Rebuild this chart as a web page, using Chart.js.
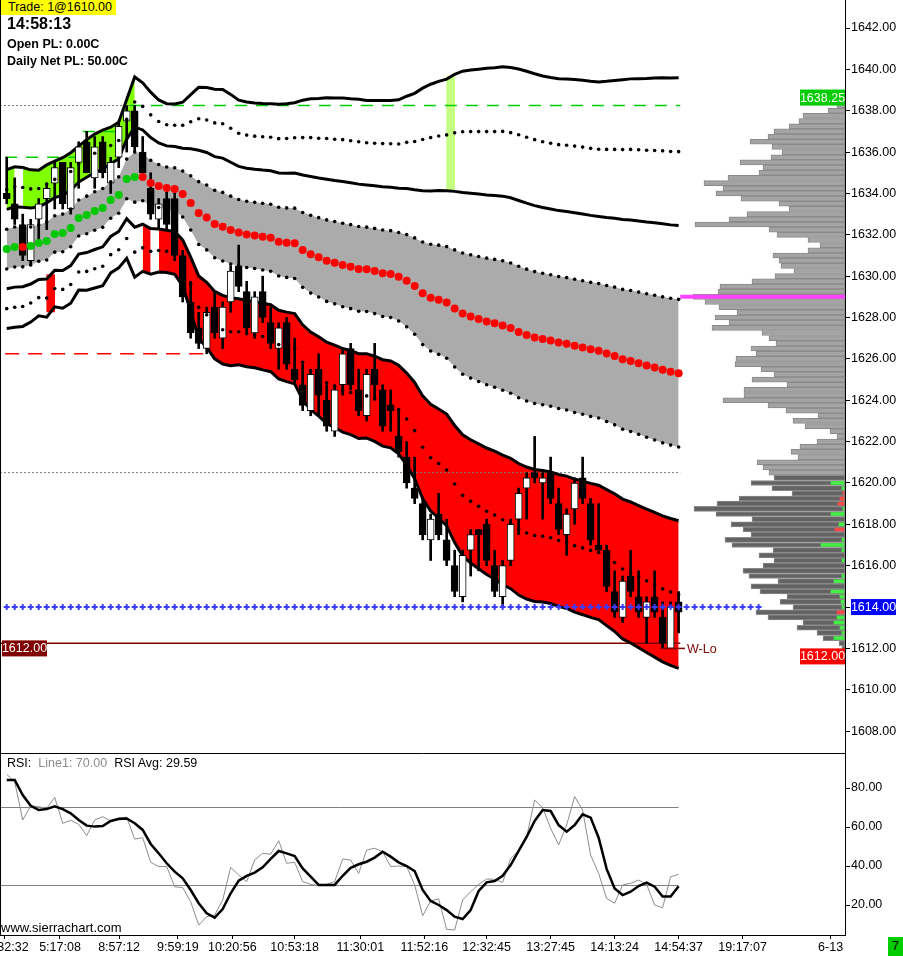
<!DOCTYPE html>
<html>
<head>
<meta charset="utf-8">
<title>ES intraday</title>
<script src="https://cdn.jsdelivr.net/npm/chart.js@4.4.1/dist/chart.umd.min.js"></script>
<style>
  html, body { margin: 0; padding: 0; background: #fff; }
  #wrap { position: relative; width: 903px; height: 956px; overflow: hidden; font-family: "Liberation Sans", Arial, sans-serif; color: #000; }
  #wrap canvas { position: absolute; left: 0; }
  #profile, #main { top: 0; }
  #rsi { top: 754px; }
  .lbl { position: absolute; white-space: nowrap; font-size: 12.5px; line-height: 15px; }
  .b { font-weight: bold; }
</style>
</head>
<body>
<div id="wrap">
  <canvas id="profile" width="903" height="754"></canvas>
  <canvas id="main" width="903" height="754"></canvas>
  <canvas id="rsi" width="903" height="202"></canvas>

  <div class="lbl" style="left:1px;top:0;width:115px;height:15px;background:#ffff00;padding-left:7px;box-sizing:border-box">Trade: 1@1610.00</div>
  <div class="lbl b" style="left:7px;top:15px;font-size:16px;line-height:18px">14:58:13</div>
  <div class="lbl b" style="left:7px;top:37px">Open PL: 0.00C</div>
  <div class="lbl b" style="left:7px;top:54px">Daily Net PL: 50.00C</div>
  <div class="lbl" style="left:7px;top:756px">RSI:<span style="color:#8c8c8c;margin-left:7px">Line1: 70.00</span><span style="margin-left:7px">RSI Avg: 29.59</span></div>
  <div class="lbl" style="left:1px;top:920px;font-size:13px">www.sierrachart.com</div>
  <div class="lbl" style="left:888px;top:937px;width:15px;height:19px;line-height:19px;text-align:center;background:#00cc00">7</div>
</div>

<script>
// candles, one per bar
const open = [1634.00,1633.50,1632.50,1630.75,1632.75,1633.75,1634.50,1635.50,1633.25,1635.50,
  1636.50,1634.75,1636.50,1634.50,1635.75,1637.50,1638.00,1636.00,1634.25,1632.75,
  1633.75,1633.75,1631.00,1628.75,1627.50,1626.50,1628.50,1627.00,1628.75,1630.50,
  1629.25,1627.25,1629.25,1627.75,1626.50,1627.75,1625.50,1624.75,1623.50,1625.50,
  1624.00,1622.50,1624.75,1626.50,1624.50,1623.25,1625.50,1624.50,1623.75,1622.25,
  1621.25,1619.75,1619.00,1617.25,1618.50,1617.25,1616.00,1614.50,1616.75,1617.75,
  1618.00,1616.00,1614.50,1616.25,1618.25,1619.75,1620.50,1620.00,1620.50,1619.00,
  1617.50,1618.75,1620.25,1619.00,1617.00,1616.75,1614.75,1613.50,1615.50,1614.50,
  1613.50,1614.50,1613.50,1612.00,1614.25];
const high = [1635.75,1634.75,1633.00,1632.75,1633.75,1634.50,1635.50,1635.50,1635.50,1636.50,
  1637.00,1636.75,1636.75,1635.75,1637.50,1638.25,1638.25,1636.75,1635.00,1633.75,
  1634.25,1634.25,1631.25,1629.75,1628.25,1628.50,1629.25,1628.75,1630.50,1631.50,
  1629.75,1629.25,1630.00,1628.50,1627.75,1628.00,1627.00,1625.75,1625.50,1626.25,
  1624.75,1624.75,1626.50,1626.75,1625.50,1625.50,1626.75,1624.75,1624.50,1623.50,
  1622.00,1621.25,1619.25,1618.50,1619.50,1618.25,1616.75,1616.75,1617.75,1617.75,
  1618.25,1616.75,1616.25,1618.25,1619.75,1620.50,1622.25,1620.50,1621.25,1619.75,
  1618.75,1620.25,1621.25,1619.25,1619.00,1617.00,1615.75,1615.50,1616.75,1615.75,
  1614.50,1615.75,1614.25,1614.25,1614.75];
const low = [1633.50,1632.50,1630.75,1630.50,1631.75,1632.25,1633.25,1633.25,1633.00,1634.25,
  1635.00,1634.25,1634.75,1634.00,1635.25,1636.00,1636.00,1634.75,1632.75,1632.25,
  1632.25,1630.75,1628.75,1627.00,1626.50,1626.25,1627.00,1626.50,1628.25,1629.25,
  1627.25,1627.00,1627.75,1626.50,1625.50,1625.50,1624.75,1623.50,1623.25,1623.25,
  1622.50,1622.25,1624.25,1624.50,1623.25,1623.00,1624.00,1622.50,1622.50,1621.25,
  1619.75,1619.00,1617.25,1616.25,1617.25,1616.00,1614.50,1614.25,1615.50,1615.75,
  1616.00,1614.50,1614.00,1616.00,1617.50,1618.25,1620.00,1618.25,1619.00,1617.50,
  1616.50,1618.00,1619.00,1617.00,1616.75,1614.75,1613.50,1613.25,1614.50,1613.50,
  1612.25,1613.50,1612.00,1612.00,1612.75];
const close = [1633.75,1632.75,1631.00,1632.50,1633.50,1634.25,1635.25,1633.50,1635.25,1636.25,
  1635.00,1636.25,1635.00,1635.50,1637.25,1638.00,1636.25,1635.00,1633.00,1633.50,
  1632.50,1631.00,1629.00,1627.25,1626.75,1628.25,1627.25,1628.50,1630.25,1629.50,
  1627.50,1629.00,1628.00,1626.75,1627.50,1625.75,1625.00,1623.75,1625.25,1624.25,
  1622.75,1624.50,1626.25,1624.75,1623.50,1625.25,1624.75,1622.75,1623.50,1621.50,
  1620.00,1619.25,1617.50,1618.25,1617.50,1616.25,1614.75,1616.50,1617.50,1617.50,
  1616.25,1614.75,1616.00,1618.00,1619.50,1620.25,1620.25,1620.25,1619.25,1617.75,
  1618.50,1620.00,1619.25,1617.25,1616.75,1615.00,1613.75,1615.25,1614.75,1613.75,
  1614.25,1613.75,1612.25,1614.00,1613.75];

// band centre line and band step (bands at centre +/- 1..4 steps)
const bandMid = [1631.31,1631.41,1631.41,1631.46,1631.60,1631.70,1632.04,1632.09,1632.33,1632.81,
  1632.96,1633.15,1633.30,1633.68,1633.92,1634.70,1634.79,1634.79,1634.50,1634.36,
  1634.26,1634.21,1633.97,1633.54,1633.05,1632.84,1632.52,1632.39,1632.23,1632.11,
  1632.02,1631.97,1631.91,1631.86,1631.67,1631.62,1631.59,1631.27,1631.06,1630.91,
  1630.75,1630.65,1630.54,1630.46,1630.35,1630.33,1630.25,1630.14,1630.10,1629.97,
  1629.78,1629.52,1629.17,1628.96,1628.86,1628.73,1628.44,1628.19,1628.05,1627.93,
  1627.81,1627.72,1627.61,1627.49,1627.30,1627.15,1627.03,1626.96,1626.89,1626.79,
  1626.73,1626.63,1626.55,1626.46,1626.39,1626.26,1626.14,1625.98,1625.90,1625.79,
  1625.68,1625.58,1625.47,1625.38,1625.31];
const bandStep = [0.96,0.97,0.96,0.92,0.88,0.92,0.88,0.91,0.91,0.87,
  0.91,0.93,0.94,0.88,0.88,0.96,1.21,1.14,1.10,1.04,
  1.02,1.03,1.11,1.31,1.52,1.57,1.63,1.66,1.64,1.60,
  1.60,1.60,1.61,1.62,1.66,1.68,1.70,1.81,1.88,1.92,
  1.97,1.99,2.02,2.03,2.05,2.04,2.06,2.09,2.10,2.14,
  2.23,2.33,2.48,2.58,2.64,2.70,2.83,2.93,2.98,3.02,
  3.06,3.09,3.13,3.15,3.18,3.19,3.19,3.18,3.18,3.19,
  3.20,3.22,3.23,3.24,3.25,3.29,3.33,3.38,3.41,3.44,
  3.47,3.50,3.53,3.55,3.57];
// 1 = centre dot green, 0 = red
const midUp = [1,1,0,1,1,1,1,1,1,1,1,1,1,1,1,1,1,0,0,0,
  0,0,0,0,0,0,0,0,0,0,0,0,0,0,0,0,0,0,0,0,
  0,0,0,0,0,0,0,0,0,0,0,0,0,0,0,0,0,0,0,0,
  0,0,0,0,0,0,0,0,0,0,0,0,0,0,0,0,0,0,0,0,
  0,0,0,0,0];
const greenZoneEnd = 17;   // upper zone filled green before this bar
// single bar highlights: position (bar), side (+1 upper zone, -1 lower zone)
const stripAt = [1.5, 5.5, 18.5, 55.5];
const stripSide = [1, -1, -1, 1];

// RSI panel
const rsiLine = [87.0,83.2,63.6,70.8,70.4,69.6,75.2,61.9,63.4,61.4,
  55.6,63.6,65.3,63.1,64.8,65.0,53.8,54.5,41.9,39.7,
  39.7,29.4,28.9,21.7,9.7,14.0,14.9,22.6,39.3,35.4,
  32.0,43.1,46.5,46.0,53.0,41.4,41.9,32.0,30.6,29.9,
  30.6,32.0,43.6,43.1,36.2,48.2,49.1,47.3,39.7,40.0,
  39.7,30.3,14.5,22.1,23.1,7.5,7.2,22.6,26.8,30.6,
  33.3,33.2,31.6,43.9,47.7,55.0,73.8,69.9,59.3,50.8,
  61.0,75.6,68.7,45.6,36.2,23.4,20.9,30.3,31.1,32.8,
  30.6,20.0,18.6,34.5,35.7];
const rsiAvg = [84.1,84.1,76.4,70.9,68.7,69.2,70.6,69.2,67.0,63.6,
  60.7,60.2,60.5,63.1,64.1,64.4,61.9,58.5,51.3,46.5,
  41.4,37.1,33.7,27.7,20.9,15.7,13.5,17.9,26.0,32.5,
  34.9,36.6,39.3,43.6,47.7,46.5,45.1,38.8,34.5,30.3,
  30.3,30.3,35.0,39.1,40.9,42.2,44.3,47.3,44.8,41.9,
  40.0,37.4,27.7,22.1,20.0,17.4,14.0,12.8,17.4,27.2,
  31.6,32.3,35.0,40.5,47.7,54.9,63.1,68.7,68.2,61.0,
  57.6,61.0,66.5,64.8,54.5,38.5,28.5,25.1,26.8,29.7,
  31.5,29.4,24.3,24.3,29.6];
const rsiLevels = [70, 30];
const rsiTicks = [20, 40, 60, 80];

// axes
const priceTicks = [1608,1610,1612,1614,1616,1618,1620,1622,1624,1626,1628,1630,1632,1634,1636,1638,1640,1642];
const timeTickAt = [-0.3, 6.66, 14.04, 21.4, 28.2, 36, 44.2, 52.2, 60, 68, 76, 84, 92, 103];
const timeLabels = ['22:32:32','5:17:08','8:57:12','9:59:19','10:20:56','10:53:18','11:30:01',
  '11:52:16','12:32:45','13:27:45','14:13:24','14:54:37','19:17:07','6-13'];

// price levels
const dayHigh = 1638.25, priorHighA = 1635.75, priorHighB = 1637.00;
const midLevel = 1620.50, openLevel = 1626.25, pivot = 1614.00;
const prevLow = 1612.25, weekLow = 1612.00, poc = 1629.00;

// volume profile
const profilePrice = [1638.25,1638,1637.75,1637.5,1637.25,1637,1636.75,1636.5,1636.25,1636,
  1635.75,1635.5,1635.25,1635,1634.75,1634.5,1634.25,1634,1633.75,1633.5,
  1633.25,1633,1632.75,1632.5,1632.25,1632,1631.75,1631.5,1631.25,1631,
  1630.75,1630.5,1630.25,1630,1629.75,1629.5,1629.25,1629,1628.75,1628.5,
  1628.25,1628,1627.75,1627.5,1627.25,1627,1626.75,1626.5,1626.25,1626,
  1625.75,1625.5,1625.25,1625,1624.75,1624.5,1624.25,1624,1623.75,1623.5,
  1623.25,1623,1622.75,1622.5,1622.25,1622,1621.75,1621.5,1621.25,1621,
  1620.75,1620.5,1620.25,1620,1619.75,1619.5,1619.25,1619,1618.75,1618.5,
  1618.25,1618,1617.75,1617.5,1617.25,1617,1616.75,1616.5,1616.25,1616,
  1615.75,1615.5,1615.25,1615,1614.75,1614.5,1614.25,1614,1613.75,1613.5,
  1613.25,1613,1612.75,1612.5,1612.25,1612];
const profileVolume = [8,17,42,46,56,71,77,95,73,63,
  74,105,82,86,117,141,122,129,104,66,
  56,98,116,150,76,68,37,25,37,72,
  66,64,51,70,93,125,127,152,140,126,
  108,130,116,133,83,76,69,94,89,109,
  110,84,71,93,58,101,101,122,77,59,
  27,52,40,15,8,28,45,54,47,88,
  82,76,71,94,73,53,106,128,151,129,
  93,114,102,94,120,113,72,86,71,82,
  102,96,67,94,85,58,65,52,89,77,
  42,48,28,22,6,3];
const profileDarkBelow = 1620.25;
const deltaPrice = [1620,1619.75,1619.5,1619.25,1619,1618.75,1618.5,1618,1617.75,1617.25,1617,1616.75,
  1616.25,1615.5,1615.25,1614.75,1614.5,1614.25,1614,1613.75,1613.5,1613.25,1613,1612.75,1612.5];
const deltaSize = [13,2,-1,-4,-6,1,13,5,-9,2,23,2,2,2,10,13,4,3,2,-7,7,10,4,2,10];

// ---- layout of the scales ----
const axisWidth = 58;
const plotWidth = 903 - axisWidth;
const xMin = -0.84, xMax = 104.8;
const priceMax = 1643.354, priceMin = 1606.894;
const rsiMax = 97.44, rsiMin = 4.62;

Chart.defaults.font.family = '"Liberation Sans", Arial, sans-serif';
Chart.defaults.font.size = 12.5;
Chart.defaults.color = '#000';

// no automatic label padding: the plot fills its canvas edge to edge
const noPad = ax => { ax.paddingTop = 0; ax.paddingBottom = 0; ax.paddingLeft = 0; ax.paddingRight = 0; };
const fitWidth = ax => { noPad(ax); ax.width = axisWidth; };

const idx = open.map((_, i) => i);
const band = k => idx.map(i => ({ x: i, y: bandMid[i] + k * bandStep[i] }));
const halfAt = (arr, x) => (arr[Math.floor(x)] + arr[Math.ceil(x)]) / 2;
const lastX = idx.length - 1;

const hidden = { type: 'line', pointRadius: 0, borderWidth: 0, borderColor: 'transparent', tension: 0, order: 100 };
const hline = (y, x0, x1, style) => Object.assign({
  type: 'line', data: [{ x: x0, y }, { x: x1, y }], pointRadius: 0, fill: false, order: 85
}, style);
const grayDash = { borderColor: '#7a7a7a', borderWidth: 1, borderDash: [2, 2] };
const greenDash = { borderColor: '#00d000', borderWidth: 1.5, borderDash: [12, 9] };

const baseOptions = {
  responsive: false,
  animation: false,
  events: [],
  layout: { padding: 0, autoPadding: false },
  plugins: { legend: { display: false }, tooltip: { enabled: false } }
};

// volume profile (drawn underneath the price chart)
new Chart(document.getElementById('profile'), {
  type: 'bar',
  data: {
    datasets: [
      {
        data: deltaPrice.map((p, i) => ({ y: p, x: [1, 1 + Math.abs(deltaSize[i])] })),
        backgroundColor: deltaSize.map(d => d > 0 ? '#44ee44' : '#ff4a4a'),
        barThickness: 3, grouped: false, order: 1
      },
      {
        data: profilePrice.map((p, i) => ({ y: p, x: profileVolume[i] })),
        backgroundColor: profilePrice.map(p => p <= profileDarkBelow ? '#636363' : '#a4a4a4'),
        borderColor: '#8a8a8a', borderWidth: 1, borderSkipped: false,
        barThickness: 5, grouped: false, order: 2
      }
    ]
  },
  options: Object.assign({}, baseOptions, {
    indexAxis: 'y',
    scales: {
      x: { type: 'linear', min: 0, max: plotWidth, reverse: true, display: false },
      y: {
        type: 'linear', position: 'right', min: priceMin, max: priceMax, offset: false,
        grid: { display: false }, border: { display: false }, ticks: { display: false },
        afterFit: fitWidth
      }
    }
  })
});

const tagPlugin = {
  id: 'tags',
  afterDraw(chart) {
    const { ctx, chartArea: a, scales: { x, y } } = chart;
    ctx.save();
    ctx.font = '12.5px "Liberation Sans", Arial, sans-serif';
    ctx.textBaseline = 'middle';
    ctx.textAlign = 'center';
    const tag = (v, left, top, bg) => {
      ctx.fillStyle = bg;
      ctx.fillRect(left, top, 45, 16);
      ctx.fillStyle = '#fff';
      ctx.fillText(v.toFixed(2), left + 22.5, top + 8.5);
    };
    tag(dayHigh, a.right - 45, y.getPixelForValue(dayHigh) - 16, '#00cc00');
    tag(pivot, a.right + 6, y.getPixelForValue(pivot) - 8, '#0000ff');
    tag(weekLow, a.right - 45, y.getPixelForValue(weekLow), '#ff0000');
    tag(weekLow, a.left + 2, y.getPixelForValue(weekLow) - 8, '#800000');
    ctx.textAlign = 'left';
    ctx.fillStyle = '#800000';
    ctx.fillText('W-Lo', x.getPixelForValue(lastX + 0.8) + 2, y.getPixelForValue(weekLow) + 1);
    ctx.strokeStyle = '#000';
    ctx.lineWidth = 1;
    ctx.beginPath();
    ctx.moveTo(a.left + 0.5, a.top);
    ctx.lineTo(a.left + 0.5, a.bottom);
    ctx.moveTo(a.left, a.bottom - 0.5);
    ctx.lineTo(a.right, a.bottom - 0.5);
    ctx.stroke();
    ctx.restore();
  }
};

new Chart(document.getElementById('main'), {
  type: 'line',
  data: {
    datasets: [
      // filled zones
      Object.assign({ data: band(1), fill: '+1', backgroundColor: '#ababab' }, hidden),
      Object.assign({ data: band(-1) }, hidden),
      Object.assign({ data: band(4).slice(0, greenZoneEnd), fill: '+1', backgroundColor: '#80ff00' }, hidden),
      Object.assign({ data: band(2).slice(0, greenZoneEnd) }, hidden),
      Object.assign({ data: band(-2).slice(greenZoneEnd), fill: '+1', backgroundColor: '#ff0000' }, hidden),
      Object.assign({ data: band(-4).slice(greenZoneEnd) }, hidden),
      {
        type: 'bar',
        data: stripAt.map((x, j) => {
          const m = halfAt(bandMid, x), s = halfAt(bandStep, x), d = stripSide[j];
          return { x, y: [m + 2 * d * s, m + 4 * d * s] };
        }),
        backgroundColor: ['#ffffff', '#ff0000', '#ffffff', '#c4ff84'],
        barThickness: 8, grouped: false, order: 95
      },
      // levels
      hline(dayHigh, xMin, 15.4, grayDash),
      hline(midLevel, xMin, lastX + 0.2, grayDash),
      hline(priorHighA, -0.2, 8.8, greenDash),
      hline(priorHighB, 9.5, 13.8, greenDash),
      hline(dayHigh, 15.4, lastX + 0.2, greenDash),
      hline(openLevel, -0.2, 32.9, { borderColor: '#ff0000', borderWidth: 1.5, borderDash: [14, 9] }),
      hline(prevLow, xMin, lastX + 0.2, { borderColor: '#800000', borderWidth: 1.5 }),
      hline(weekLow, lastX - 2.3, lastX + 0.8, { borderColor: '#800000', borderWidth: 1.5, order: 30 }),
      hline(poc, lastX + 0.2, xMax, { borderColor: '#ff44ff', borderWidth: 4, order: 30 }),
      // solid bands
      ...[4, 2, -2, -4].map(k => ({
        type: 'line', data: band(k), borderColor: '#000', borderWidth: 3, pointRadius: 0, tension: 0, fill: false, order: 60
      })),
      // candles
      {
        type: 'bar', data: idx.map(i => ({ x: i, y: [low[i], high[i]] })),
        backgroundColor: '#000', barThickness: 2, grouped: false, order: 50
      },
      {
        type: 'bar', data: idx.map(i => ({ x: i, y: [open[i], close[i]] })),
        backgroundColor: idx.map(i => close[i] >= open[i] ? '#ffffff' : '#000000'),
        borderColor: '#000', borderWidth: 1, borderSkipped: false, barThickness: 7, grouped: false, order: 49
      },
      // dotted bands
      ...[3, 1, -1, -3].map(k => ({
        type: 'line', data: band(k), showLine: false, pointRadius: 1.8, pointBackgroundColor: '#000',
        pointBorderWidth: 0, fill: false, order: 40
      })),
      // centre dots
      {
        type: 'line', data: band(0), showLine: false, pointRadius: 4,
        pointBackgroundColor: midUp.map(u => u ? '#00c800' : '#ff0000'), pointBorderWidth: 0, fill: false, order: 35
      },
      // pivot markers
      {
        type: 'line', data: Array.from({ length: 95 }, (_, i) => ({ x: i, y: pivot })), showLine: false,
        pointStyle: 'cross', pointRadius: 3, pointBorderColor: '#3c3cff', pointBorderWidth: 2, fill: false, order: 30
      }
    ]
  },
  options: Object.assign({}, baseOptions, {
    scales: {
      x: { type: 'linear', min: xMin, max: xMax, display: false, offset: false, afterFit: noPad },
      y: {
        type: 'linear', position: 'right', min: priceMin, max: priceMax,
        afterBuildTicks: ax => { ax.ticks = priceTicks.map(v => ({ value: v })); },
        ticks: { callback: v => v.toFixed(2), padding: 1, color: '#000' },
        grid: { drawOnChartArea: false, tickLength: 5, color: '#000' },
        border: { color: '#000' },
        afterFit: fitWidth
      }
    }
  }),
  plugins: [tagPlugin]
});

const leftBorder = {
  id: 'leftBorder',
  afterDraw(chart) {
    const { ctx, chartArea: a } = chart;
    ctx.save();
    ctx.strokeStyle = '#000';
    ctx.beginPath();
    ctx.moveTo(a.left + 0.5, a.top);
    ctx.lineTo(a.left + 0.5, a.bottom);
    ctx.stroke();
    ctx.restore();
  }
};

new Chart(document.getElementById('rsi'), {
  type: 'line',
  data: {
    datasets: [
      ...rsiLevels.map(v => ({
        data: [{ x: xMin, y: v }, { x: lastX, y: v }], borderColor: '#808080', borderWidth: 1, pointRadius: 0, order: 3
      })),
      { data: rsiLine.map((v, i) => ({ x: i, y: v })), borderColor: '#8c8c8c', borderWidth: 1, pointRadius: 0, tension: 0, order: 2 },
      { data: rsiAvg.map((v, i) => ({ x: i, y: v })), borderColor: '#000', borderWidth: 2.5, pointRadius: 0, tension: 0, order: 1 }
    ]
  },
  options: Object.assign({}, baseOptions, {
    scales: {
      x: {
        type: 'linear', min: xMin, max: xMax, offset: false,
        afterBuildTicks: ax => { ax.ticks = timeTickAt.map(v => ({ value: v })); },
        ticks: { autoSkip: false, maxRotation: 0, padding: 1, callback: (v, i) => timeLabels[i] },
        grid: { drawOnChartArea: false, tickLength: 4, color: '#000' },
        border: { color: '#000' },
        afterFit: ax => { noPad(ax); ax.height = 21; }
      },
      y: {
        type: 'linear', position: 'right', min: rsiMin, max: rsiMax,
        afterBuildTicks: ax => { ax.ticks = rsiTicks.map(v => ({ value: v })); },
        ticks: { callback: v => v.toFixed(2), padding: 1 },
        grid: { drawOnChartArea: false, tickLength: 5, color: '#000' },
        border: { color: '#000' },
        afterFit: fitWidth
      }
    }
  }),
  plugins: [leftBorder]
});
</script>
</body>
</html>
